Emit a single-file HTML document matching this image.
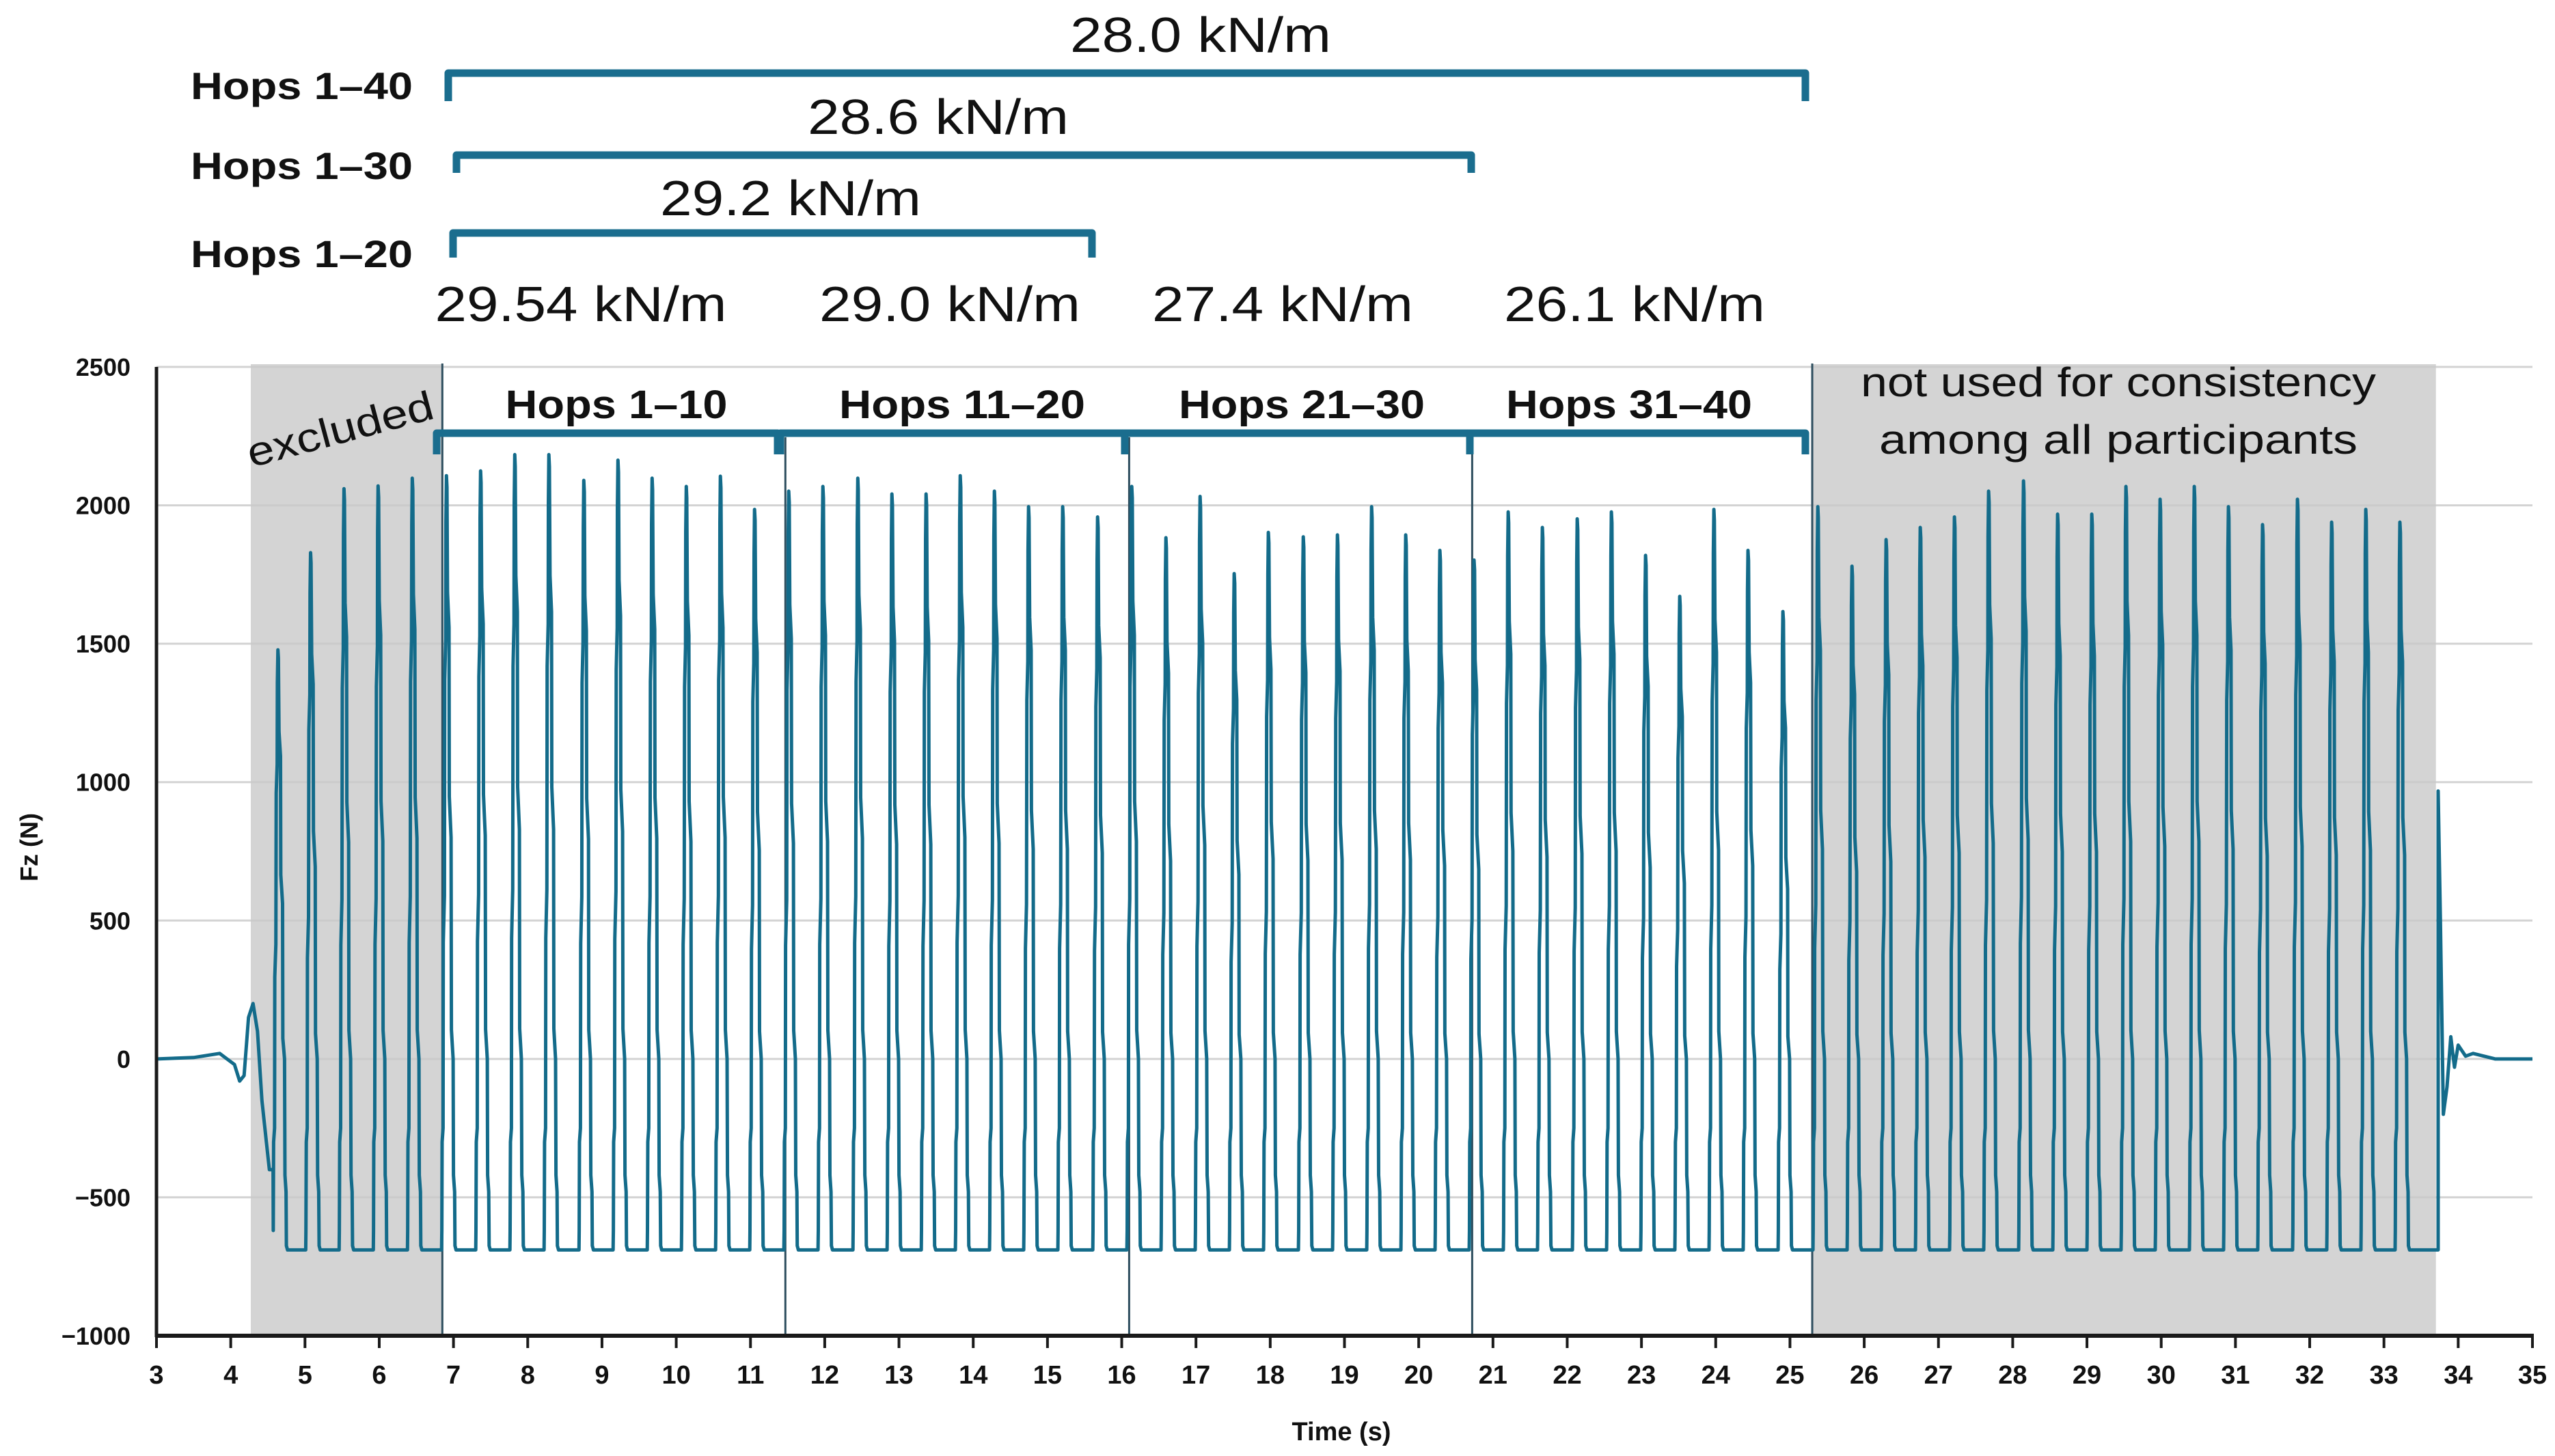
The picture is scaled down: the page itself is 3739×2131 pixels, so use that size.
<!DOCTYPE html>
<html><head><meta charset="utf-8"><style>
html,body{margin:0;padding:0;background:#fff}
svg{display:block}
text{font-family:"Liberation Sans",sans-serif}
</style></head><body>
<svg id="chart" xmlns="http://www.w3.org/2000/svg" width="3739" height="2131" viewBox="0 0 3739 2131">
<g id="shading"></g><g id="grid"></g><g id="dividers"></g><g id="trace"></g><g id="axes"></g><g id="annot"></g>
</svg>
<script>
const hopTimes = [4.67,5.11,5.56,6.02,6.48,
 6.94,7.40,7.86,8.32,8.79,9.25,9.71,10.17,10.63,11.09,
 11.55,12.01,12.48,12.94,13.40,13.86,14.32,14.78,15.24,15.71,
 16.17,16.63,17.09,17.55,18.01,18.48,18.94,19.40,19.86,20.32,
 20.78,21.24,21.70,22.17,22.63,23.09,23.55,24.01,24.47,24.94,
 25.41,25.87,26.33,26.79,27.25,27.71,28.18,28.64,29.10,29.56,30.02,30.48,30.94,31.40,31.87,32.33,32.79,33.25];
const hopPeaks = [1478,1829,2060,2070,2098,
 2107,2124,2183,2183,2090,2163,2098,2068,2105,1985,
 2051,2068,2098,2041,2041,2107,2051,1995,1995,1958,
 2068,1883,2032,1753,1902,1886,1893,1995,1893,1837,
 1802,1976,1920,1951,1976,1819,1671,1985,1837,1616,
 1995,1780,1876,1920,1958,2051,2088,1968,1968,2068,2022,2068,1995,1930,2022,1939,1985,1939];
const flightLevel = [-690];
const preTimes = [3.0,3.5,3.85,3.95,4.05,4.12,4.18,4.24,4.3,4.36,4.42,4.48,4.52];
const preValues = [0,5,20,0,-20,-80,-60,150,200,100,-150,-300,-400];
const postTimes = [33.73,33.76,33.8,33.85,33.9,33.95,34.0,34.1,34.2,34.5,35.0];
const postValues = [968,500,-200,-100,80,-30,50,10,20,0,0];
const yTicks = [-1000,-500,0,500,1000,1500,2000,2500];
const yTickLabels = ["\u22121000","\u2212500","0","500","1000","1500","2000","2500"];
const xTicks = [3,4,5,6,7,8,9,10,11,12,13,14,15,16,17,18,19,20,21,22,23,24,25,26,27,28,29,30,31,32,33,34,35];
const shadedRegions = [[4.27,6.85],[25.3,33.7]];
const dividerTimes = [11.47,16.1,20.72];

const X0=229,X1=3706,Y0=1955,Y1=537;
const sx=t=>X0+(t-3)*(X1-X0)/32;
const sy=v=>Y0-(v+1000)*(Y0-Y1)/3500;
const NS="http://www.w3.org/2000/svg";
function mk(tag,attrs,parent,txt){const e=document.createElementNS(NS,tag);for(const k in attrs)e.setAttribute(k,attrs[k]);if(txt!==undefined)e.textContent=txt;parent.appendChild(e);return e;}
const G=id=>document.getElementById(id);

shadedRegions.forEach((r,i)=>{
 const e=mk('rect',{x:sx(r[0]),y:Y1-4,width:sx(r[1])-sx(r[0]),height:Y0-Y1+4,fill:'#d4d4d4'},G('shading'));
 
 
});
yTicks.forEach(v=>{ if(v===-1000) return;
 const e=mk('line',{x1:X0,x2:X1,y1:sy(v),y2:sy(v),stroke:'#c8c8c8','stroke-width':3,'stroke-opacity':0.8},G('grid'));
 
 
});
[[6.85,Y1-5]].concat(dividerTimes.map(t=>[t,640])).concat([[25.3,Y1-5]]).forEach(d=>{
 const e=mk('line',{x1:sx(d[0]),x2:sx(d[0]),y1:d[1],y2:Y0,stroke:'#2f4f5f','stroke-width':3},G('dividers'));
 
 
});
let pts=[];
preTimes.forEach((t,i)=>pts.push([t,preValues[i]]));
const fl=flightLevel[0];
hopTimes.forEach((t,i)=>{
 const p=hopPeaks[i];
 if(i===0){pts.push([t-0.1,-400]);} else pts.push([t-0.1,fl]);
 pts.push([t-0.097,-620],[t-0.093,-300],[t-0.08,-250],[t-0.077,0.2*p],[t-0.062,0.28*p],[t-0.058,0.65*p],[t-0.045,0.72*p],[t-0.042,0.92*p],[t-0.035,p],[t-0.028,0.98*p],[t-0.02,0.8*p],[t+0.0,0.74*p],[t+0.004,0.45*p],[t+0.028,0.38*p],[t+0.032,0.05*p],[t+0.055,0.0],[t+0.06,-420],[t+0.075,-480],[t+0.08,fl+15],[t+0.095,fl]);
 const nt=i+1<hopTimes.length?hopTimes[i+1]:33.83;
 pts.push([nt-0.1,fl]);
});
postTimes.forEach((t,i)=>pts.push([t,postValues[i]]));
const tr=mk('polyline',{points:pts.map(p=>sx(p[0]).toFixed(1)+','+sy(p[1]).toFixed(1)).join(' '),fill:'none',stroke:'#136b8a','stroke-width':5,'stroke-linejoin':'round'},G('trace'));



const ax=G('axes');
let e=mk('line',{x1:X0,x2:X0,y1:Y1,y2:Y0+2,stroke:'#1a1a1a','stroke-width':5},ax);

e=mk('line',{x1:X0-2,x2:X1+2,y1:Y0,y2:Y0,stroke:'#1a1a1a','stroke-width':6},ax);

yTicks.forEach((v,i)=>{
 const t=mk('text',{x:191,y:sy(v)+13,'text-anchor':'end','font-size':36,'font-weight':'bold',fill:'#111'},ax,yTickLabels[i]);
 
});
xTicks.forEach(v=>{
 const l=mk('line',{x1:sx(v),x2:sx(v),y1:Y0,y2:Y0+18,stroke:'#1a1a1a','stroke-width':4},ax);
 
 const t=mk('text',{x:sx(v),y:2025,'text-anchor':'middle','font-size':38,'font-weight':'bold',fill:'#111'},ax,String(v));
 
});
e=mk('text',{x:0,y:0,transform:'translate(55,1240) rotate(-90)','text-anchor':'middle','font-size':36,'font-weight':'bold',fill:'#111'},ax,'Fz (N)');

e=mk('text',{x:1963,y:2108,'text-anchor':'middle','font-size':38,'font-weight':'bold',fill:'#111'},ax,'Time (s)');


const an=G('annot');
function bracket(x1,x2,y,y2,w,name){
 const p=mk('path',{d:`M${x1},${y2} L${x1},${y} L${x2},${y} L${x2},${y2}`,fill:'none',stroke:'#1a6d8e','stroke-width':w,'stroke-linejoin':'round'},an);
 
}
function txt(x,y,s,size,bold,anchor,len,name){
 const a={x:x,y:y,'font-size':size,fill:'#111','text-anchor':anchor||'middle'};
 if(bold)a['font-weight']='bold';
 if(len){a.textLength=len;a.lengthAdjust='spacingAndGlyphs';}
 const t=mk('text',a,an,s);
}
bracket(656,2642,107,148,11,'bracket-hops-1-40');
bracket(668,2153,227,253,11,'bracket-hops-1-30');
bracket(663,1598,341,377,11,'bracket-hops-1-20');
txt(1757,76,'28.0 kN/m',72,false,'middle',382,'stiffness-hops-1-40');
txt(1373,196,'28.6 kN/m',72,false,'middle',382,'stiffness-hops-1-30');
txt(1157,315,'29.2 kN/m',72,false,'middle',382,'stiffness-hops-1-20');
txt(279,145,'Hops 1\u201340',56,true,'start',325,'label-hops-1-40');
txt(279,262,'Hops 1\u201330',56,true,'start',325,'label-hops-1-30');
txt(279,391,'Hops 1\u201320',56,true,'start',325,'label-hops-1-20');
txt(850,470,'29.54 kN/m',72,false,'middle',427,'stiffness-hops-1-10');
txt(1390,470,'29.0 kN/m',72,false,'middle',382,'stiffness-hops-11-20');
txt(1877,470,'27.4 kN/m',72,false,'middle',382,'stiffness-hops-21-30');
txt(2392,470,'26.1 kN/m',72,false,'middle',382,'stiffness-hops-31-40');
bracket(639,1138,634,665,11,'bracket-hops-1-10');
bracket(1142,1646,634,665,11,'bracket-hops-11-20');
bracket(1646,2151,634,665,11,'bracket-hops-21-30');
bracket(2151,2642,634,665,11,'bracket-hops-31-40');
txt(902,612,'Hops 1\u201310',58,true,'middle',325,'label-hops-1-10');
txt(1408,612,'Hops 11\u201320',58,true,'middle',360,'label-hops-11-20');
txt(1905,612,'Hops 21\u201330',58,true,'middle',360,'label-hops-21-30');
txt(2384,612,'Hops 31\u201340',58,true,'middle',360,'label-hops-31-40');
txt(3100,580,'not used for consistency',60,false,'middle',754,'unused-note-line1');
txt(3100,664,'among all participants',60,false,'middle',700,'unused-note-line2');
const ex=mk('text',{x:0,y:0,transform:'translate(503,648) rotate(-15)','font-size':60,fill:'#111','text-anchor':'middle',textLength:280,lengthAdjust:'spacingAndGlyphs'},an,'excluded');

</script>
</body></html>
